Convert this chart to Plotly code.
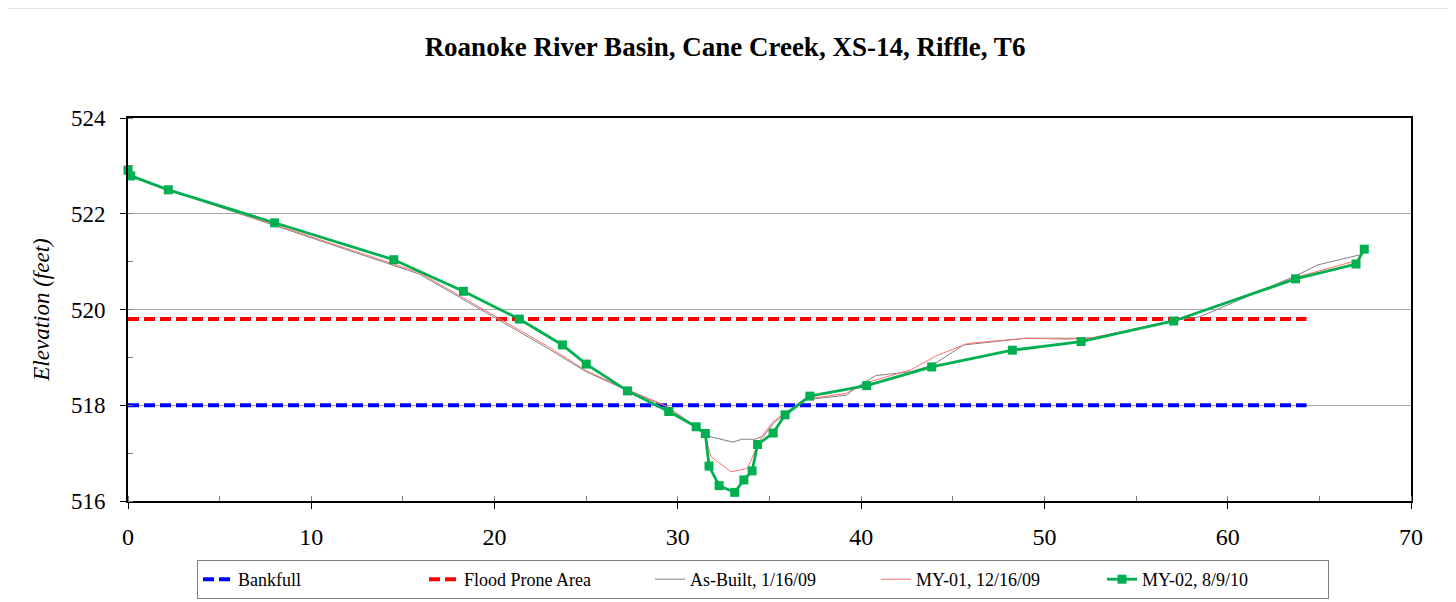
import plotly.graph_objects as go

# ---- data ----
bank_x = [0, 64.3]
bank_y = [518.0, 518.0]
flood_x = [0, 64.3]
flood_y = [519.8, 519.8]

asbuilt_x = [0, 0.1, 2.2, 7.9, 14.5, 15.9, 22.9, 25.0, 27.3, 29.4, 30.7, 31.8, 33.0, 33.5, 34.2, 34.7,
             35.2, 36.0, 36.9, 39.2, 39.8, 40.8, 42.7, 43.9, 45.6, 49.0, 52.6, 57.2, 58.5, 63.8, 64.9, 67.2, 67.6]
asbuilt_y = [522.85, 522.80, 522.50, 521.77, 520.93, 520.74, 519.19, 518.70, 518.30, 517.97, 517.62, 517.34,
             517.23, 517.29, 517.29, 517.36, 517.62, 517.87, 518.11, 518.21, 518.39, 518.62, 518.70, 518.84,
             519.26, 519.40, 519.40, 519.78, 519.85, 520.72, 520.93, 521.14, 521.24]

my01_x = [0, 0.1, 2.2, 7.9, 14.5, 15.9, 22.9, 25.0, 27.3, 29.4, 30.7, 31.5, 31.8, 32.9, 33.8, 34.3, 34.7,
          35.2, 36.9, 39.2, 40.2, 42.7, 44.2, 45.8, 49.0, 51.3, 52.6, 57.1, 63.8, 67.2, 67.4]
my01_y = [522.87, 522.82, 522.51, 521.79, 520.96, 520.77, 519.23, 518.72, 518.32, 517.98, 517.63, 517.35,
          516.93, 516.61, 516.68, 517.13, 517.41, 517.66, 518.12, 518.25, 518.46, 518.74, 519.05, 519.29,
          519.40, 519.38, 519.41, 519.77, 520.68, 521.04, 521.25]

my02_x = [0.0, 0.15, 2.2, 8.0, 14.5, 18.3, 21.35, 23.7, 25.0, 27.25, 29.5, 31.0, 31.5, 31.7, 32.25, 33.1,
          33.6, 34.05, 34.35, 35.2, 35.85, 37.2, 40.3, 43.85, 48.25, 52.0, 57.05, 63.7, 67.0, 67.45]
my02_y = [522.91, 522.79, 522.50, 521.81, 521.04, 520.38, 519.80, 519.26, 518.86, 518.30, 517.87, 517.55,
          517.41, 516.73, 516.32, 516.18, 516.44, 516.63, 517.18, 517.42, 517.80, 518.19, 518.41, 518.80,
          519.15, 519.33, 519.76, 520.64, 520.95, 521.26]

FONT = "Liberation Serif, Times New Roman, serif"

# The page body adds an 8px offset; figure sized so the plot area lands at the reference position.
W, H = 1448, 594
PL, PT, PW, PH = 120, 110, 1283, 383

fig = go.Figure()
fig.add_trace(go.Scatter(x=bank_x, y=bank_y, mode="lines", name="Bankfull",
                         line=dict(color="#0000FF", width=4, dash="11px,5px")))
fig.add_trace(go.Scatter(x=flood_x, y=flood_y, mode="lines", name="Flood Prone Area",
                         line=dict(color="#FF0000", width=4, dash="11px,5px")))
fig.add_trace(go.Scatter(x=asbuilt_x, y=asbuilt_y, mode="lines", name="As-Built, 1/16/09",
                         line=dict(color="#808080", width=1)))
fig.add_trace(go.Scatter(x=my01_x, y=my01_y, mode="lines", name="MY-01, 12/16/09",
                         line=dict(color="#FF7070", width=1)))
fig.add_trace(go.Scatter(x=my02_x, y=my02_y, mode="lines+markers", name="MY-02, 8/9/10",
                         line=dict(color="#00B050", width=2.8),
                         marker=dict(symbol="square", size=9, color="#00B050"),
                         cliponaxis=False))

fig.update_layout(
    width=W, height=H,
    paper_bgcolor="white", plot_bgcolor="white",
    margin=dict(l=PL, r=W - PL - PW, t=PT, b=H - PT - PH, autoexpand=False),
    font=dict(family=FONT, color="black", size=23),
    title=dict(text="<b>Roanoke River Basin, Cane Creek, XS-14, Riffle, T6</b>",
               x=0.5 - 7 / W, xanchor="center", y=1 - 39 / H, yanchor="middle",
               font=dict(family=FONT, size=27, color="black")),
    showlegend=True,
    legend=dict(orientation="h", x=(197 - 128) / PW, xanchor="left",
                y=-(560 - 501) / PH, yanchor="top",
                entrywidth=181, entrywidthmode="pixels",
                bordercolor="#808080", borderwidth=1, bgcolor="white",
                font=dict(family=FONT, size=18, color="black")),
    xaxis=dict(range=[0, 70], dtick=10, tick0=0, showgrid=False, zeroline=False,
               showline=True, linecolor="black", linewidth=2, mirror=True,
               ticks="outside", ticklen=6, tickcolor="black", ticklabelstandoff=7,
               minor=dict(dtick=5, ticks="inside", ticklen=5, tickcolor="#808080", showgrid=False),
               tickfont=dict(family=FONT, size=24)),
    yaxis=dict(range=[516, 524], dtick=2, tick0=516, showgrid=True, gridcolor="#A6A6A6", gridwidth=1,
               zeroline=False, showline=True, linecolor="black", linewidth=2, mirror=True,
               ticks="outside", ticklen=6, tickcolor="black", ticklabelstandoff=10,
               minor=dict(dtick=1, ticks="inside", ticklen=5, tickcolor="#808080", showgrid=False),
               tickfont=dict(family=FONT, size=23),
               title=dict(text="<i>Elevation (feet)</i>", font=dict(family=FONT, size=23), standoff=15)),
)

# outer chart border
fig.add_shape(type="rect", xref="paper", yref="paper",
              x0=(5 - 128) / PW, x1=(1452 - 128) / PW,
              y0=-(620 - 501) / PH, y1=(501 - 8) / PH,
              line=dict(color="#C0C0C0", width=1), fillcolor="rgba(0,0,0,0)", layer="below")

fig.write_html("out.html")
